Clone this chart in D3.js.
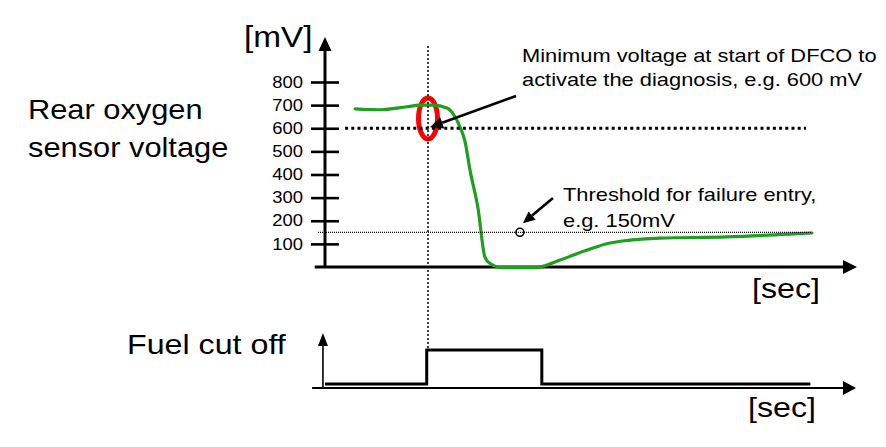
<!DOCTYPE html>
<html>
<head>
<meta charset="utf-8">
<script src="https://cdn.jsdelivr.net/npm/d3@7"></script>
<style>
  html, body { margin: 0; padding: 0; background: #fff; }
  svg { display: block; }
  text { font-family: "Liberation Sans", Arial, Helvetica, sans-serif; fill: #000; }
</style>
</head>
<body>
<div id="chart"></div>
<script>
// ---------------- data ----------------
const yTickValues = [100, 200, 300, 400, 500, 600, 700, 800];
// time in arbitrary seconds, voltage in mV
const sensorTime = [1.17, 2.14, 3.18, 3.69, 4.19, 4.74, 5.05, 5.24, 5.44, 5.63, 5.94, 6.21, 6.41, 6.91, 8.2, 8.35, 9.13, 10.41, 11.07, 13.01, 15.61, 18.17, 18.91];
const sensorMv   = [684, 680, 693, 700, 700, 688, 650, 606, 541, 420, 255, 43, 15, -3, -3, 0, 30, 82, 104, 125, 130, 143, 147];
const fuelTime  = [0, 3.95, 3.95, 8.42, 8.42, 18.85];
const fuelState = [0, 0, 1, 1, 0, 0];
const minVoltageMv = 600;
const minVoltageSpan = [0.78, 18.68];
const thresholdMv = 150;
const thresholdSpan = [-0.27, 18.91];
const thresholdMarkTime = 7.57;
const dfcoStart = 4.0;
const labels = {
  sensor: ["Rear oxygen", "sensor voltage"],
  unitY: "[mV]",
  unitX: "[sec]",
  fuel: "Fuel cut off",
  note1: ["Minimum voltage at start of DFCO to", "activate the diagnosis, e.g. 600 mV"],
  note2: ["Threshold for failure entry,", "e.g. 150mV"]
};

// ---------------- layout ----------------
const W = 886, H = 447;
const STRETCH = 1.15;
const svg = d3.select("#chart").append("svg").attr("width", W).attr("height", H);
svg.append("rect").attr("width", W).attr("height", H).attr("fill", "#fff");

const x = d3.scaleLinear().domain([0, 20]).range([325, 840]);
const y = d3.scaleLinear().domain([0, 800]).range([267, 82]);
const yFuel = d3.scaleLinear().domain([0, 1]).range([384, 350]);

function stretch(sel, k) {
  sel.each(function () {
    const len = this.getComputedTextLength();
    d3.select(this).attr("textLength", len * (k || STRETCH)).attr("lengthAdjust", "spacingAndGlyphs");
  });
  return sel;
}
function addText(t, px, py, size, anchor, k) {
  return stretch(svg.append("text").attr("x", px).attr("y", py)
    .attr("font-size", size).attr("text-anchor", anchor || "start").text(t), k);
}
function tri(tip, dir, len, half) {
  const [tx, ty] = tip;
  let pts;
  if (dir === "up") pts = [[tx, ty], [tx - half, ty + len], [tx + half, ty + len]];
  else pts = [[tx, ty], [tx - len, ty - half], [tx - len, ty + half]];
  svg.append("path").attr("d", "M" + pts.map(p => p.join(",")).join("L") + "Z").attr("fill", "#000");
}

// ---------------- top chart axes ----------------
const yAxisG = svg.append("g").attr("transform", `translate(${x(0)},0)`)
  .call(d3.axisLeft(y).tickValues(yTickValues).tickSize(14).tickSizeOuter(0).tickPadding(8));
yAxisG.select(".domain").remove();
yAxisG.selectAll(".tick line").attr("x1", 14).attr("stroke", "#000").attr("stroke-width", 2.6);
yAxisG.selectAll(".tick text").attr("font-size", 16).attr("fill", "#000")
  .attr("font-family", "Liberation Sans, Arial, sans-serif");
stretch(yAxisG.selectAll(".tick text"));

// y axis line + arrow
svg.append("line").attr("x1", x(0)).attr("x2", x(0)).attr("y1", y(0) + 1).attr("y2", 48)
  .attr("stroke", "#000").attr("stroke-width", 3);
tri([x(0), 37], "up", 14, 6.5);
// x axis line + arrow
svg.append("line").attr("x1", x(-0.4)).attr("x2", 846).attr("y1", y(0)).attr("y2", y(0))
  .attr("stroke", "#000").attr("stroke-width", 3);
tri([857, y(0)], "right", 14, 7);

// red ellipse
svg.append("ellipse").attr("cx", x(dfcoStart)).attr("cy", 118.5).attr("rx", 9.5).attr("ry", 20.5)
  .attr("fill", "none").attr("stroke", "#ff0000").attr("stroke-width", 5);

// sensor curve
const line = d3.line().x((d, i) => x(sensorTime[i])).y(d => y(d)).curve(d3.curveMonotoneX);
svg.append("path").datum(sensorMv).attr("d", line).attr("fill", "none")
  .attr("stroke", "#1f9f1f").attr("stroke-width", 3.2).attr("stroke-linejoin", "round").attr("stroke-linecap", "round");

// 600 mV dotted line
svg.append("line").attr("x1", x(minVoltageSpan[0])).attr("x2", x(minVoltageSpan[1]))
  .attr("y1", y(minVoltageMv)).attr("y2", y(minVoltageMv))
  .attr("stroke", "#000").attr("stroke-width", 3).attr("stroke-dasharray", "3,3.2");
// threshold dotted line
svg.append("line").attr("x1", x(thresholdSpan[0])).attr("x2", x(thresholdSpan[1]))
  .attr("y1", y(thresholdMv)).attr("y2", y(thresholdMv))
  .attr("stroke", "#000").attr("stroke-width", 1.2).attr("stroke-dasharray", "1,1");
// vertical DFCO dotted line
svg.append("line").attr("x1", x(dfcoStart)).attr("x2", x(dfcoStart)).attr("y1", 46).attr("y2", yFuel(1))
  .attr("stroke", "#000").attr("stroke-width", 1.5).attr("stroke-dasharray", "2,2");

// threshold marker circle
svg.append("circle").attr("cx", x(thresholdMarkTime)).attr("cy", y(thresholdMv)).attr("r", 4)
  .attr("fill", "none").attr("stroke", "#000").attr("stroke-width", 1.6);

// annotation arrows
function arrow(from, to, headLen, half) {
  const ang = Math.atan2(to[1] - from[1], to[0] - from[0]);
  const bx = to[0] - headLen * Math.cos(ang), by = to[1] - headLen * Math.sin(ang);
  svg.append("line").attr("x1", from[0]).attr("y1", from[1]).attr("x2", bx).attr("y2", by)
    .attr("stroke", "#000").attr("stroke-width", 2.6);
  const px = -Math.sin(ang) * half, py = Math.cos(ang) * half;
  svg.append("path").attr("d", `M${to[0]},${to[1]}L${bx + px},${by + py}L${bx - px},${by - py}Z`).attr("fill", "#000");
}
arrow([516, 96], [x(dfcoStart) + 2, y(minVoltageMv) - 1], 13, 6);
arrow([553, 198], [x(thresholdMarkTime) + 3, y(thresholdMv) - 9], 12, 5.5);

// ---------------- bottom chart ----------------
const fuelLine = d3.line().x((d, i) => x(fuelTime[i])).y(d => yFuel(d));
svg.append("path").datum(fuelState).attr("d", fuelLine).attr("fill", "none")
  .attr("stroke", "#000").attr("stroke-width", 3);
svg.append("line").attr("x1", x(-0.5)).attr("x2", 844).attr("y1", 388).attr("y2", 388)
  .attr("stroke", "#000").attr("stroke-width", 2.2);
tri([856, 388], "right", 13, 7);
svg.append("line").attr("x1", x(-0.08)).attr("x2", x(-0.08)).attr("y1", 388).attr("y2", 344)
  .attr("stroke", "#000").attr("stroke-width", 1.6);
tri([x(-0.08), 333], "up", 13, 5);

// ---------------- texts ----------------
addText(labels.sensor[0], 28, 119, 28, "start", 1.1);
addText(labels.sensor[1], 28, 157, 28, "start", 1.1);
addText(labels.unitY, 244, 47, 29);
addText(labels.unitX, 752, 298, 28);
addText(labels.fuel, 127, 354, 28);
addText(labels.unitX, 748, 417, 28);
addText(labels.note1[0], 522, 62, 19);
addText(labels.note1[1], 522, 86, 19);
addText(labels.note2[0], 563, 201, 19);
addText(labels.note2[1], 563, 227, 19);
</script>
</body>
</html>
